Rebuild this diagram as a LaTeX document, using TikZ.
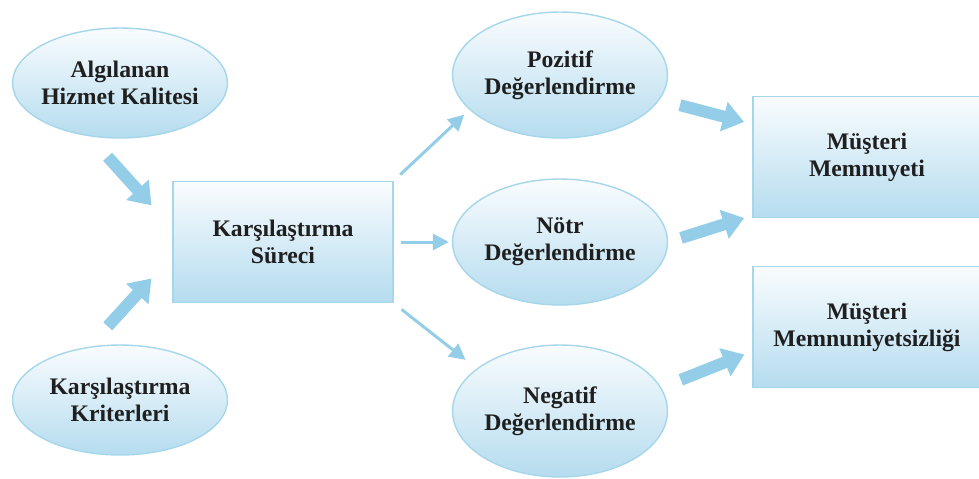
\documentclass[tikz,border=0pt]{standalone}
\usepackage{fontspec}
\setmainfont{Liberation Serif}
\usetikzlibrary{arrows.meta,shapes}
\definecolor{edgeblue}{HTML}{A6D6EA}
\definecolor{fillblue}{HTML}{B5DCEF}
\definecolor{arrowblue}{HTML}{93CDE7}
\tikzstyle{oval}=[ellipse,draw=edgeblue,line width=0.8pt,top color=white!92!fillblue,bottom color=fillblue,minimum width=4.3cm,inner sep=-4pt,align=center,font=\fontsize{13.5}{15.5}\selectfont\bfseries,text=black!88]
\tikzstyle{kutu}=[rectangle,draw=edgeblue,line width=0.8pt,top color=white!92!fillblue,bottom color=fillblue,minimum height=2.42cm,inner sep=0pt,align=center,font=\fontsize{13.5}{15.5}\selectfont\bfseries,text=black!88]
\tikzstyle{bigarrow}=[draw=arrowblue,line width=0.24cm,-{Triangle[length=0.42cm,width=0.58cm]}]
\tikzstyle{smallarrow}=[draw=arrowblue,line width=0.06cm,-{Triangle[length=0.32cm,width=0.32cm]}]

\begin{document}
\begin{tikzpicture}[x=0.02cm,y=-0.02cm]
    \useasboundingbox (0,0) rectangle (979,478);
    % First we draw the ovals
    \foreach \pos/\name/\txt/\h in {{(120,83)/alg/{Algılanan\\Hizmet Kalitesi}/2.2cm}, {(120,400)/kri/{Karşılaştırma\\Kriterleri}/2.2cm}, {(560,75)/poz/{Pozitif\\Değerlendirme}/2.52cm}, {(560,242)/notr/{Nötr\\Değerlendirme}/2.52cm}, {(560,411)/neg/{Negatif\\Değerlendirme}/2.64cm}}
        \node[oval,minimum height=\h] (\name) at \pos {\txt};
    % Then the boxes
    \foreach \pos/\name/\txt/\w in {{(283,242)/sur/{Karşılaştırma\\Süreci}/4.4cm}, {(867,157)/mem/{Müşteri\\Memnuyeti}/4.56cm}, {(867,327)/mns/{Müşteri\\Memnuniyetsizliği}/4.56cm}}
        \node[kutu,minimum width=\w] (\name) at \pos {\txt};
    % Wide arrows
    \foreach \source/\dest/\s/\e in {alg.-120/sur.173/0.55cm/0.62cm, kri.120/sur.187/0.55cm/0.62cm, poz.-14/mem.164/0.42cm/0.17cm, notr.0/mem.207/0.27cm/0.17cm, neg.13/mns.192/0.42cm/0.17cm}
        \path[bigarrow,shorten <=\s,shorten >=\e] (\source) -- (\dest);
    % Narrow arrows out of the process
    \foreach \source/\dest/\s/\e in {sur.north east/poz.201/0.18cm/0.14cm, sur.east/notr.west/0.14cm/0.06cm, sur.south east/neg.153/0.2cm/0.28cm}
        \path[smallarrow,shorten <=\s,shorten >=\e] (\source) -- (\dest);
\end{tikzpicture}
\end{document}
